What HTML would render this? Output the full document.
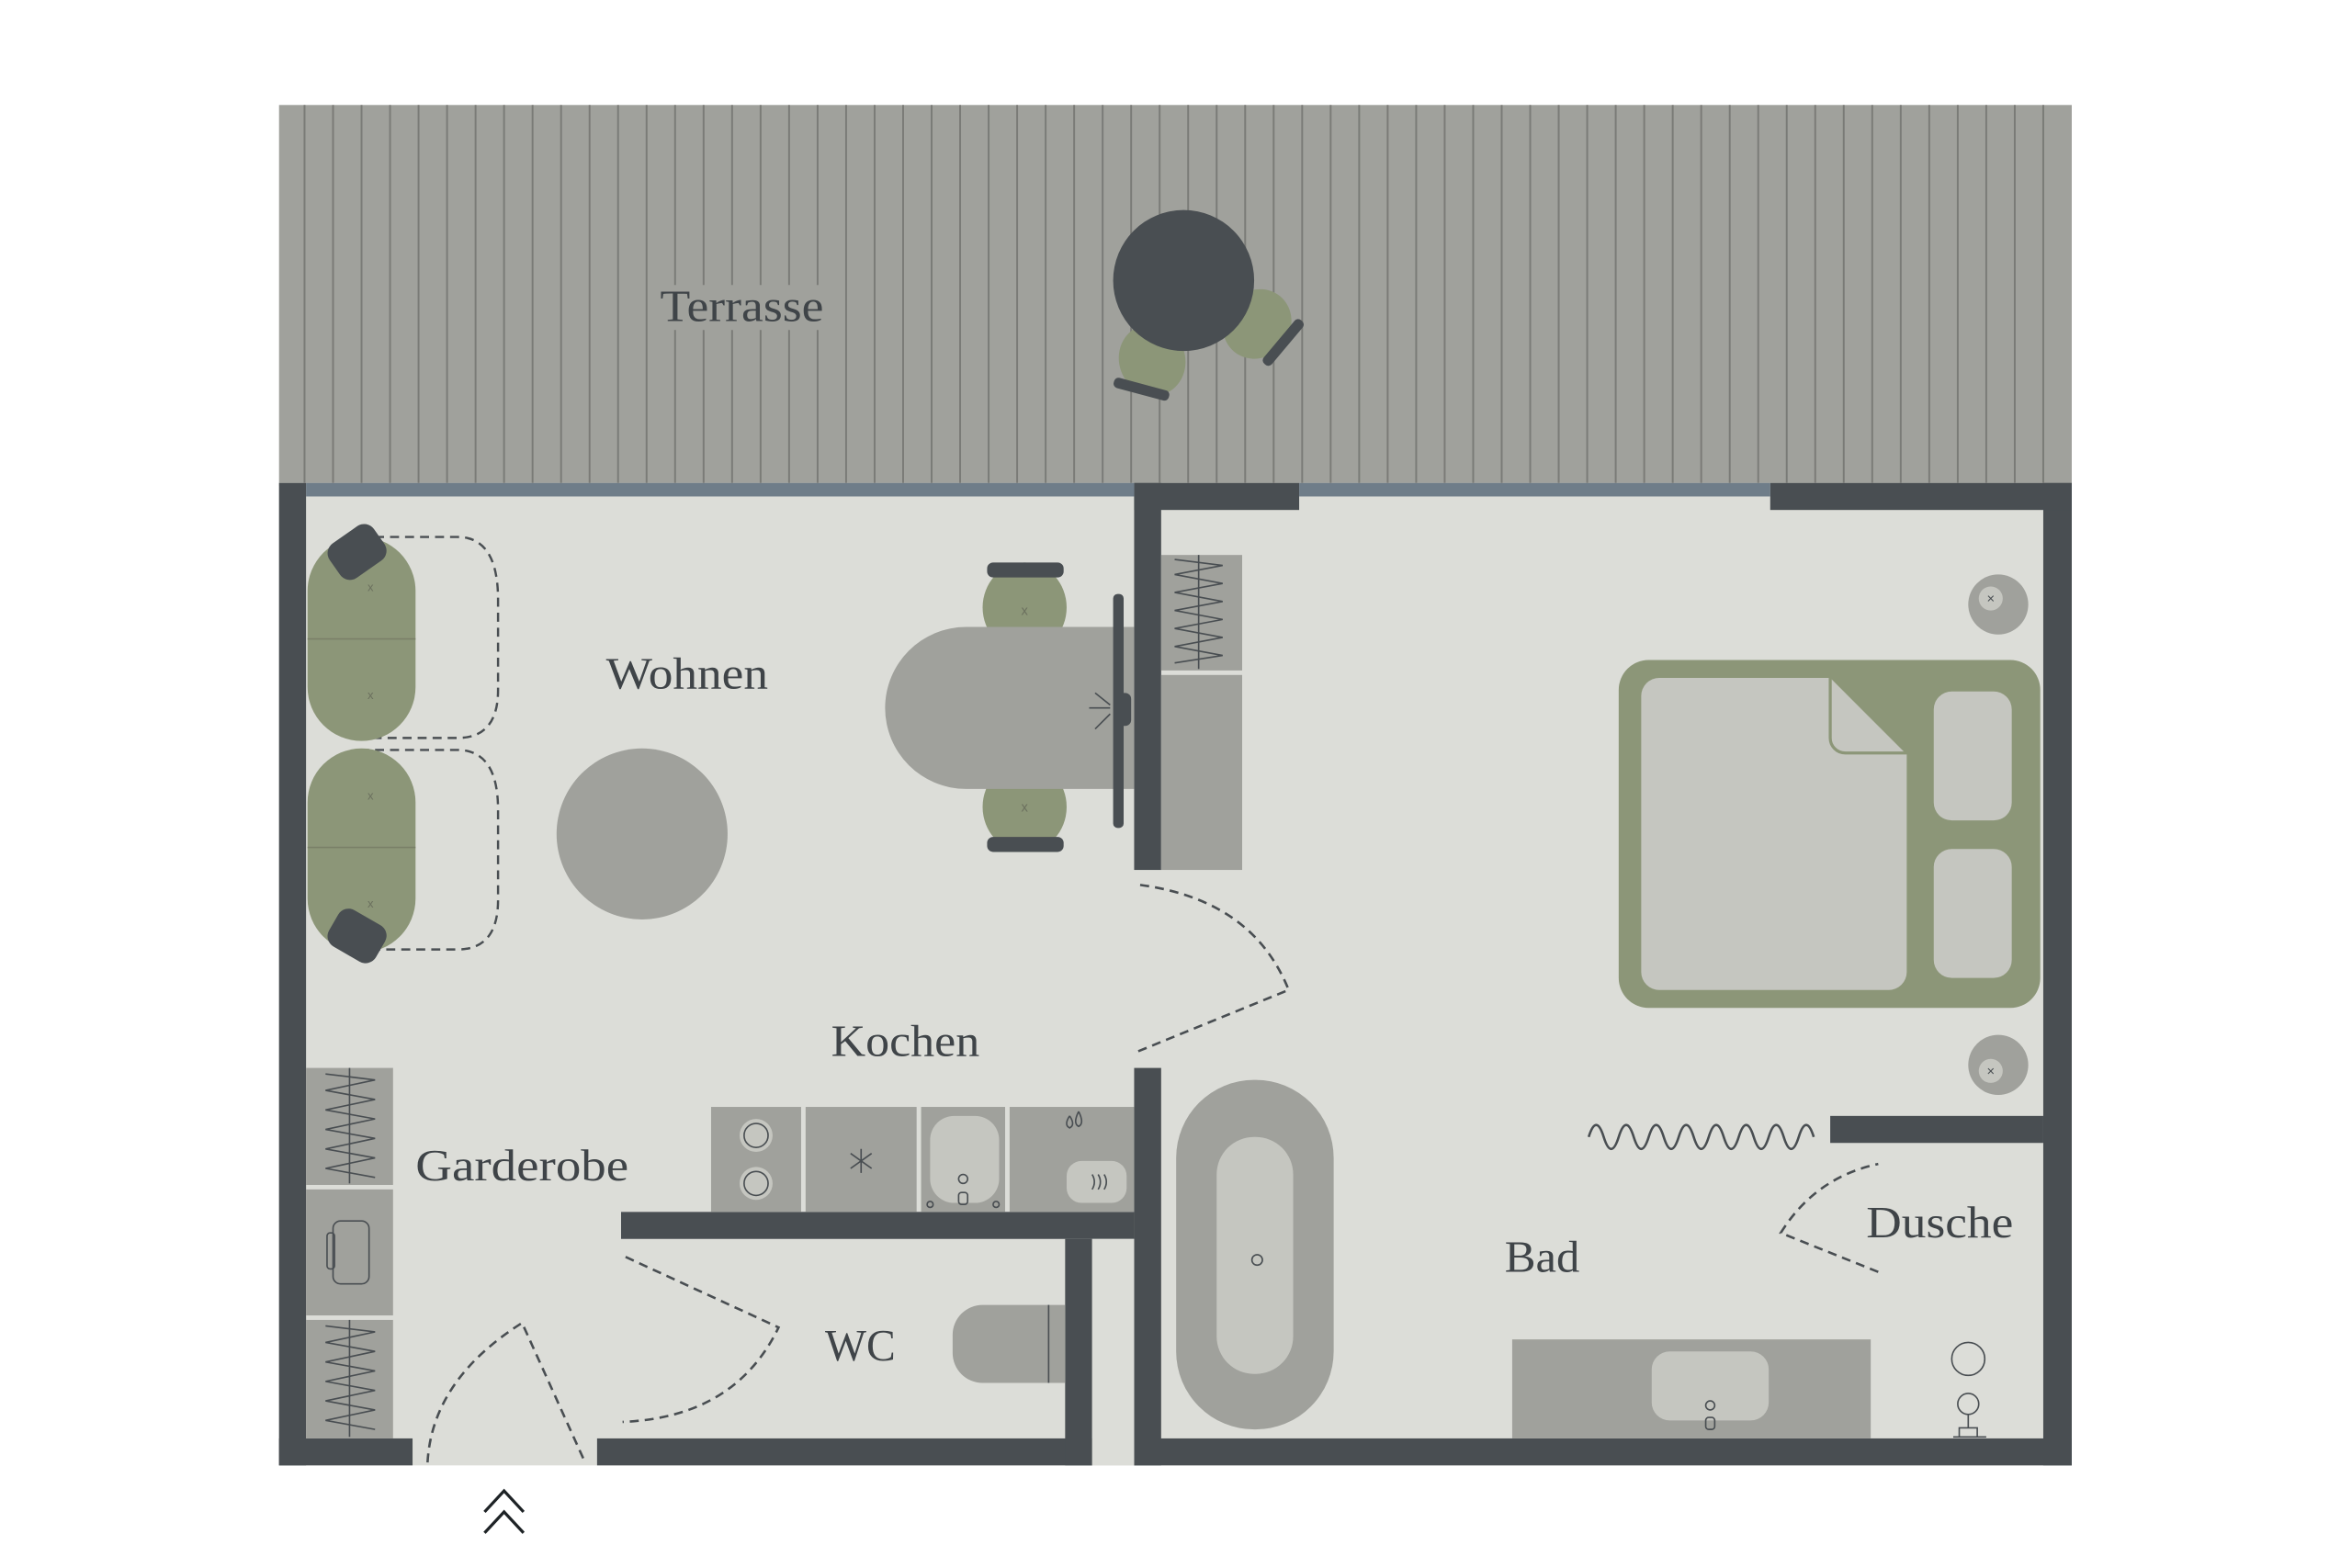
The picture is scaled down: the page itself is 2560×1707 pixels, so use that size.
<!DOCTYPE html>
<html><head><meta charset="utf-8"><style>html,body{margin:0;padding:0;background:#fff}svg{display:block}</style></head>
<body>
<svg width="2560" height="1707" viewBox="0 0 1567.8 1045.4" preserveAspectRatio="none" xmlns="http://www.w3.org/2000/svg">
<rect width="1570" height="1050" fill="#fff"/>
<rect x="186" y="70" width="1195" height="254" fill="#a0a19c"/>
<rect x="186" y="322" width="1195" height="655" fill="#dcddd8"/>
<g fill="#494e52">
<rect x="186" y="322" width="18" height="655"/>
<rect x="1362" y="322" width="19" height="655"/>
<rect x="186" y="959" width="89" height="18"/>
<rect x="398" y="959" width="330" height="18"/>
<rect x="756" y="959" width="625" height="18"/>
<rect x="756" y="322" width="110" height="18"/>
<rect x="1180" y="322" width="201" height="18"/>
<rect x="756" y="322" width="18" height="258"/>
<rect x="756" y="712" width="18" height="265"/>
<rect x="414" y="808" width="342" height="18"/>
<rect x="710" y="826" width="18" height="151"/>
<rect x="1220" y="744" width="142" height="18"/>
</g>
<rect x="728" y="826" width="28" height="151" fill="#dcddd8"/>
<rect x="204" y="322" width="552" height="9" fill="#6f7d89"/>
<rect x="866" y="322" width="314" height="9" fill="#6f7d89"/>
<g stroke="#7a7b77" stroke-width="1.2">
<line x1="203" y1="70" x2="203" y2="322"/><line x1="222" y1="70" x2="222" y2="322"/><line x1="241" y1="70" x2="241" y2="322"/><line x1="260" y1="70" x2="260" y2="322"/><line x1="279" y1="70" x2="279" y2="322"/><line x1="298" y1="70" x2="298" y2="322"/><line x1="317" y1="70" x2="317" y2="322"/><line x1="336" y1="70" x2="336" y2="322"/><line x1="355" y1="70" x2="355" y2="322"/><line x1="374" y1="70" x2="374" y2="322"/><line x1="393" y1="70" x2="393" y2="322"/><line x1="412" y1="70" x2="412" y2="322"/><line x1="431" y1="70" x2="431" y2="322"/><line x1="450" y1="70" x2="450" y2="190"/><line x1="450" y1="220" x2="450" y2="322"/><line x1="469" y1="70" x2="469" y2="190"/><line x1="469" y1="220" x2="469" y2="322"/><line x1="488" y1="70" x2="488" y2="190"/><line x1="488" y1="220" x2="488" y2="322"/><line x1="507" y1="70" x2="507" y2="190"/><line x1="507" y1="220" x2="507" y2="322"/><line x1="526" y1="70" x2="526" y2="190"/><line x1="526" y1="220" x2="526" y2="322"/><line x1="545" y1="70" x2="545" y2="190"/><line x1="545" y1="220" x2="545" y2="322"/><line x1="564" y1="70" x2="564" y2="322"/><line x1="583" y1="70" x2="583" y2="322"/><line x1="602" y1="70" x2="602" y2="322"/><line x1="621" y1="70" x2="621" y2="322"/><line x1="640" y1="70" x2="640" y2="322"/><line x1="659" y1="70" x2="659" y2="322"/><line x1="678" y1="70" x2="678" y2="322"/><line x1="697" y1="70" x2="697" y2="322"/><line x1="716" y1="70" x2="716" y2="322"/><line x1="735" y1="70" x2="735" y2="322"/><line x1="754" y1="70" x2="754" y2="322"/><line x1="773" y1="70" x2="773" y2="322"/><line x1="792" y1="70" x2="792" y2="322"/><line x1="811" y1="70" x2="811" y2="322"/><line x1="830" y1="70" x2="830" y2="322"/><line x1="849" y1="70" x2="849" y2="322"/><line x1="868" y1="70" x2="868" y2="322"/><line x1="887" y1="70" x2="887" y2="322"/><line x1="906" y1="70" x2="906" y2="322"/><line x1="925" y1="70" x2="925" y2="322"/><line x1="944" y1="70" x2="944" y2="322"/><line x1="963" y1="70" x2="963" y2="322"/><line x1="982" y1="70" x2="982" y2="322"/><line x1="1001" y1="70" x2="1001" y2="322"/><line x1="1020" y1="70" x2="1020" y2="322"/><line x1="1039" y1="70" x2="1039" y2="322"/><line x1="1058" y1="70" x2="1058" y2="322"/><line x1="1077" y1="70" x2="1077" y2="322"/><line x1="1096" y1="70" x2="1096" y2="322"/><line x1="1115" y1="70" x2="1115" y2="322"/><line x1="1134" y1="70" x2="1134" y2="322"/><line x1="1153" y1="70" x2="1153" y2="322"/><line x1="1172" y1="70" x2="1172" y2="322"/><line x1="1191" y1="70" x2="1191" y2="322"/><line x1="1210" y1="70" x2="1210" y2="322"/><line x1="1229" y1="70" x2="1229" y2="322"/><line x1="1248" y1="70" x2="1248" y2="322"/><line x1="1267" y1="70" x2="1267" y2="322"/><line x1="1286" y1="70" x2="1286" y2="322"/><line x1="1305" y1="70" x2="1305" y2="322"/><line x1="1324" y1="70" x2="1324" y2="322"/><line x1="1343" y1="70" x2="1343" y2="322"/><line x1="1362" y1="70" x2="1362" y2="322"/>
</g>
<g>
<ellipse cx="768" cy="240" rx="22" ry="24" fill="#8c9678" transform="rotate(-20 768 240)"/>
<rect x="742" y="256" width="38" height="7" rx="3" fill="#494e52" transform="rotate(15 761 259)"/>
<ellipse cx="838" cy="216" rx="22" ry="24" fill="#8c9678" transform="rotate(40 838 216)"/>
<rect x="836" y="225" width="38" height="7" rx="3" fill="#494e52" transform="rotate(-50 855 228)"/>
<circle cx="789" cy="187" r="47" fill="#494e52"/>
</g>
<g fill="none" stroke="#494e52" stroke-width="1.5" stroke-dasharray="6 4">
<path d="M240 358 H305 Q332 358 332 400 V460 Q332 492 305 492 H240"/>
<path d="M240 500 H305 Q332 500 332 540 V600 Q332 633 305 633 H240"/>
</g>
<rect x="205" y="358" width="72" height="136" rx="36" fill="#8c9678"/>
<rect x="205" y="499" width="72" height="136" rx="36" fill="#8c9678"/>
<line x1="205" y1="426" x2="277" y2="426" stroke="#7a8068" stroke-width="1"/>
<line x1="205" y1="565" x2="277" y2="565" stroke="#7a8068" stroke-width="1"/>
<rect x="220" y="354" width="36" height="28" rx="8" fill="#494e52" transform="rotate(-35 238 368)"/>
<rect x="220" y="610" width="36" height="28" rx="8" fill="#494e52" transform="rotate(30 238 624)"/>
<g fill="#6b705e" font-family="Liberation Sans" font-size="8" text-anchor="middle">
<text x="247" y="394">x</text><text x="247" y="466">x</text><text x="247" y="533">x</text><text x="247" y="605">x</text>
</g>
<circle cx="428" cy="556" r="57" fill="#a0a19c"/>
<ellipse cx="683" cy="405" rx="28" ry="30" fill="#8c9678"/>
<ellipse cx="683" cy="538" rx="28" ry="30" fill="#8c9678"/>
<rect x="658" y="375" width="51" height="10" rx="4" fill="#494e52"/>
<rect x="658" y="558" width="51" height="10" rx="4" fill="#494e52"/>
<path d="M644 418 H756 V526 H644 A54 54 0 0 1 644 418 Z" fill="#a0a19c"/>
<rect x="742" y="396" width="7" height="156" rx="3" fill="#494e52"/>
<rect x="745" y="462" width="9" height="22" rx="4" fill="#494e52"/>
<g stroke="#494e52" stroke-width="1"><line x1="726" y1="472" x2="740" y2="472"/><line x1="730" y1="462" x2="740" y2="470"/><line x1="730" y1="486" x2="740" y2="476"/></g>
<g fill="#6b705e" font-family="Liberation Sans" font-size="9" text-anchor="middle"><text x="683" y="410">x</text><text x="683" y="541">x</text></g>
<rect x="774" y="370" width="54" height="77" fill="#a0a19c"/>
<rect x="774" y="450" width="54" height="130" fill="#a0a19c"/>
<g stroke="#494e52" stroke-width="1" fill="none">
<path d="M783 373 L815 377 L783 383 L815 389 L783 395 L815 401 L783 407 L815 413 L783 419 L815 425 L783 431 L815 437 L783 442"/>
<line x1="799" y1="370" x2="799" y2="446"/>
</g>
<g fill="none" stroke="#494e52" stroke-width="1.6" stroke-dasharray="6 4">
<path d="M760 590 Q835 600 859 660 L756 702"/>
<path d="M417 838 L519 885 Q490 945 415 948"/>
<path d="M285 975 Q288 920 348 882 L390 975"/>
<path d="M1252 848 L1187 822 Q1210 785 1252 776"/>
</g>
<g fill="#a0a19c">
<rect x="474" y="738" width="60" height="70"/><rect x="537" y="738" width="74" height="70"/>
<rect x="614" y="738" width="56" height="70"/><rect x="673" y="738" width="83" height="70"/>
</g>
<g fill="#c5c6c0" stroke="none"><circle cx="504" cy="757" r="11"/><circle cx="504" cy="789" r="11"/>
<rect x="620" y="744" width="46" height="58" rx="16"/><rect x="711" y="774" width="40" height="28" rx="10"/></g>
<g fill="none" stroke="#494e52" stroke-width="1"><circle cx="504" cy="757" r="8"/><circle cx="504" cy="789" r="8"/>
<path d="M574 766 V782 M567 769 L581 779 M567 779 L581 769"/>
<circle cx="642" cy="786" r="3"/><rect x="639" y="795" width="6" height="8" rx="2"/><circle cx="620" cy="803" r="2"/><circle cx="664" cy="803" r="2"/>
<path d="M728 783 q3 5 0 10 M732 783 q3 5 0 10 M736 783 q3 5 0 10"/>
<path d="M713 744 q-4 6 0 8 q4 -2 0 -8 M719 741 q-4 8 0 10 q4 -2 0 -10"/></g>
<g fill="#a0a19c"><rect x="204" y="712" width="58" height="78"/><rect x="204" y="793" width="58" height="84"/><rect x="204" y="880" width="58" height="79"/></g>
<g stroke="#494e52" stroke-width="1" fill="none">
<path d="M217 716 L250 720 L217 727 L250 733 L217 740 L250 746 L217 753 L250 759 L217 766 L250 772 L217 779 L250 785"/><line x1="233" y1="712" x2="233" y2="789"/>
<path d="M217 884 L250 888 L217 895 L250 901 L217 908 L250 914 L217 921 L250 927 L217 934 L250 940 L217 947 L250 953"/><line x1="233" y1="880" x2="233" y2="958"/>
<rect x="222" y="814" width="24" height="42" rx="5"/><rect x="218" y="822" width="5" height="24" rx="2"/>
</g>
<path d="M655 870 H710 V922 H655 A20 20 0 0 1 635 902 V890 A20 20 0 0 1 655 870 Z" fill="#a0a19c"/>
<line x1="699" y1="870" x2="699" y2="922" stroke="#494e52" stroke-width="1"/>
<rect x="784" y="720" width="105" height="233" rx="52" fill="#a0a19c"/>
<rect x="811" y="758" width="51" height="158" rx="25" fill="#c5c6c0"/>
<circle cx="838" cy="840" r="3.5" fill="none" stroke="#494e52" stroke-width="1"/>
<rect x="1008" y="893" width="239" height="66" fill="#a0a19c"/>
<rect x="1101" y="901" width="78" height="46" rx="12" fill="#c5c6c0"/>
<g fill="none" stroke="#494e52" stroke-width="1"><circle cx="1140" cy="937" r="3"/><rect x="1137" y="945" width="6" height="8" rx="2"/>
<circle cx="1312" cy="906" r="11"/><circle cx="1312" cy="936" r="7"/><path d="M1302 958 H1324 M1306 958 V952 H1318 V958 M1312 943 V952"/>
<path d="M1059 758 q5 -16 10 0 q5 16 10 0 q5 -16 10 0 q5 16 10 0 q5 -16 10 0 q5 16 10 0 q5 -16 10 0 q5 16 10 0 q5 -16 10 0 q5 16 10 0 q5 -16 10 0 q5 16 10 0 q5 -16 10 0 q5 16 10 0 q5 -16 10 0" stroke-width="1.6"/></g>
<rect x="1079" y="440" width="281" height="232" rx="20" fill="#8c9678"/>
<path d="M1106 452 H1220 L1271 503 V648 A12 12 0 0 1 1259 660 H1106 A12 12 0 0 1 1094 648 V464 A12 12 0 0 1 1106 452 Z" fill="#c5c6c0"/>
<path d="M1220 452 V492 A10 10 0 0 0 1230 502 H1271" fill="none" stroke="#8c9678" stroke-width="2"/>
<rect x="1289" y="461" width="52" height="86" rx="12" fill="#c5c6c0"/>
<rect x="1289" y="566" width="52" height="86" rx="12" fill="#c5c6c0"/>
<circle cx="1332" cy="403" r="20" fill="#a0a19c"/><circle cx="1327" cy="399" r="8" fill="#c5c6c0"/>
<circle cx="1332" cy="710" r="20" fill="#a0a19c"/><circle cx="1327" cy="714" r="8" fill="#c5c6c0"/>
<g fill="#494e52" font-family="Liberation Sans" font-size="9" text-anchor="middle"><text x="1327" y="402">×</text><text x="1327" y="717">×</text></g>
<g fill="none" stroke="#1e2326" stroke-width="2"><path d="M323 1008 L336 994 L349 1008 M323 1022 L336 1008 L349 1022"/></g>
<g fill="#3f4448" font-family="Liberation Serif, serif" font-size="30" lengthAdjust="spacingAndGlyphs">
<text x="440" y="214" textLength="109" lengthAdjust="spacingAndGlyphs">Terrasse</text>
<text x="404" y="459" textLength="108" lengthAdjust="spacingAndGlyphs">Wohnen</text>
<text x="554" y="704" textLength="99" lengthAdjust="spacingAndGlyphs">Kochen</text>
<text x="277" y="787" textLength="142" lengthAdjust="spacingAndGlyphs">Garderobe</text>
<text x="550" y="907" textLength="47" lengthAdjust="spacingAndGlyphs">WC</text>
<text x="1003" y="848" textLength="50" lengthAdjust="spacingAndGlyphs">Bad</text>
<text x="1244" y="825" textLength="98" lengthAdjust="spacingAndGlyphs">Dusche</text>
</g>
</svg>
</body></html>
